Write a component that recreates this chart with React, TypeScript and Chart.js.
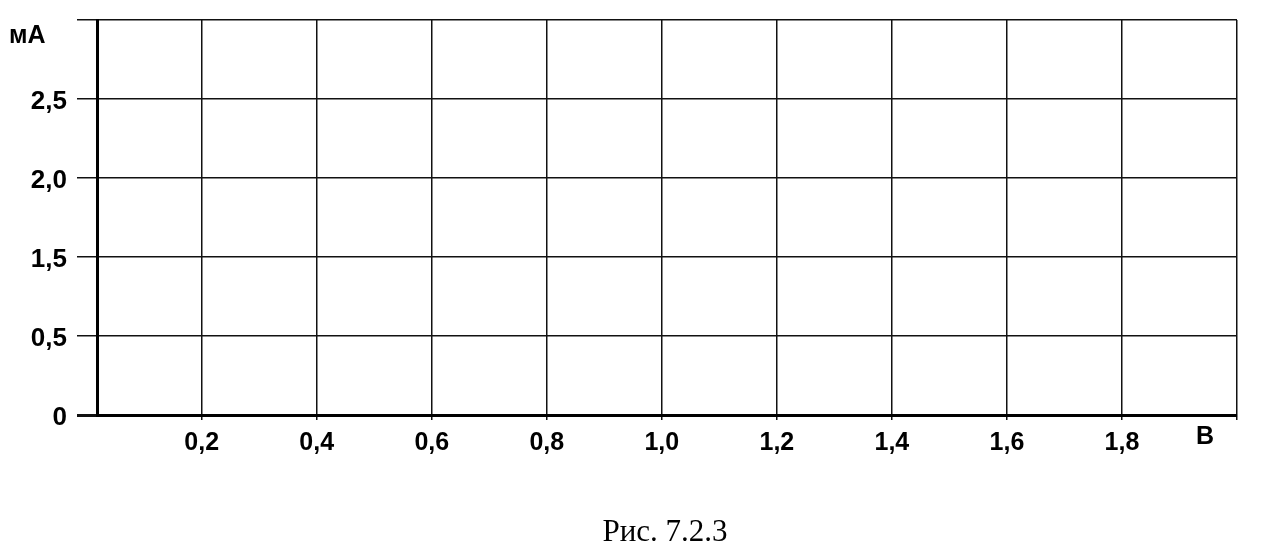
import React, { useEffect, useRef } from "react";
import { Chart, registerables } from "chart.js";

Chart.register(...registerables);

// Voltage axis (В): grid positions and labels
const xTicks = [0.2, 0.4, 0.6, 0.8, 1.0, 1.2, 1.4, 1.6, 1.8, 2.0];
const xTickLabels = ["0,2", "0,4", "0,6", "0,8", "1,0", "1,2", "1,4", "1,6", "1,8", ""];
const xMin = 0.018;
const xMax = 2.0;

// Current axis (мА): grid rows and their printed labels (as in the original print)
const yTicks = [0, 1, 2, 3, 4, 5];
const yTickLabels = ["0", "0,5", "1,5", "2,0", "2,5", ""];

const xUnit = "В";
const yUnit = "мА";
const caption = "Рис. 7.2.3";

const SANS = "'Liberation Sans', Arial, sans-serif";
const SERIF = "'Liberation Serif', 'Times New Roman', serif";

const extraText = {
  id: "extraText",
  afterDraw(chart: any) {
    const { ctx, chartArea } = chart;
    ctx.save();
    ctx.fillStyle = "#000";
    ctx.font = `bold 25px ${SANS}`;
    ctx.textAlign = "left";
    ctx.textBaseline = "alphabetic";
    ctx.fillText(yUnit, 9, 43);
    ctx.textAlign = "center";
    ctx.textBaseline = "middle";
    ctx.font = `bold 25px ${SANS}`;
    ctx.fillText(xUnit, chartArea.right - 32, 437);
    ctx.font = `31px ${SERIF}`;
    ctx.textBaseline = "alphabetic";
    ctx.fillText(caption, (chartArea.left + chartArea.right) / 2 - 2, 541);
    ctx.restore();
  },
};

export default function App() {
  const ref = useRef<HTMLCanvasElement>(null);

  useEffect(() => {
    document.body.style.margin = "0";
    const chart = new Chart(ref.current!, {
      type: "scatter",
      data: { datasets: [{ data: [] }] },
      options: {
        animation: false,
        responsive: false,
        devicePixelRatio: 1,
        layout: { padding: { left: 0, top: 20, right: 26, bottom: 0 } },
        plugins: {
          legend: { display: false },
          tooltip: { enabled: false },
          title: { display: false },
        },
        scales: {
          x: {
            type: "linear",
            min: xMin,
            max: xMax,
            afterBuildTicks: (s: any) => {
              s.ticks = xTicks.map((v) => ({ value: v }));
            },
            afterFit: (s: any) => {
              s.height = 139;
              s.paddingLeft = 0;
              s.paddingRight = 0;
            },
            border: { display: true, color: "#000", width: 3 },
            grid: {
              color: "#111",
              lineWidth: 1.5,
              drawTicks: true,
              tickLength: 5,
            },
            ticks: {
              color: "#000",
              padding: 8,
              maxRotation: 0,
              autoSkip: false,
              font: { family: SANS, size: 25, weight: "bold" },
              callback: (v: any) => {
                const i = xTicks.findIndex((t) => Math.abs(t - v) < 1e-6);
                return i >= 0 ? xTickLabels[i] : "";
              },
            },
          },
          y: {
            type: "linear",
            min: 0,
            max: 5,
            afterBuildTicks: (s: any) => {
              s.ticks = yTicks.map((v) => ({ value: v }));
            },
            afterFit: (s: any) => {
              s.width = 97;
              s.paddingTop = 0;
              s.paddingBottom = 0;
            },
            border: { display: true, color: "#000", width: 3 },
            grid: {
              color: "#111",
              lineWidth: (c: any) => (c.index === 0 ? 3 : 1.5),
              drawTicks: true,
              tickLength: 20,
            },
            ticks: {
              color: "#000",
              padding: 10,
              labelOffset: 3,
              autoSkip: false,
              font: { family: SANS, size: 26, weight: "bold" },
              callback: (v: any) => {
                const i = yTicks.indexOf(Math.round(v));
                return i >= 0 ? yTickLabels[i] : "";
              },
            },
          },
        },
      },
      plugins: [extraText],
    } as any);
    return () => chart.destroy();
  }, []);

  return (
    <div style={{ position: "absolute", left: 0, top: 0, width: 1263, height: 554, background: "#fff" }}>
      <canvas ref={ref} width={1263} height={554} style={{ display: "block" }} />
    </div>
  );
}
